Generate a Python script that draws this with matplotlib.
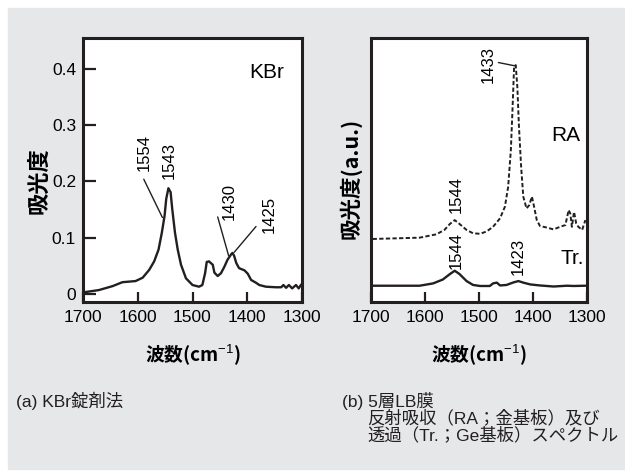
import matplotlib
matplotlib.use('Agg')
import matplotlib.pyplot as plt
from matplotlib import font_manager
from matplotlib.patches import Rectangle

plt.rcParams['font.family'] = ['Liberation Sans', 'Noto Sans CJK JP']
plt.rcParams['mathtext.fontset'] = 'custom'
plt.rcParams['mathtext.rm'] = 'Liberation Sans'

# --- (a) KBr spectrum, wavenumber (cm-1) vs absorbance ---
kbr_wn = [1699, 1671, 1646, 1628, 1616, 1604, 1591, 1579, 1570, 1562, 1556, 1551,
          1548, 1544, 1540, 1537, 1532, 1527, 1521, 1512, 1500, 1488, 1482, 1477,
          1474, 1470, 1463, 1460, 1454, 1448, 1442, 1436, 1429, 1427, 1424, 1420,
          1415, 1405, 1399, 1393, 1384, 1378, 1366, 1348, 1338, 1334, 1329, 1324,
          1318, 1311, 1306, 1302]
kbr_abs = [0.003, 0.007, 0.014, 0.021, 0.022, 0.023, 0.029, 0.043, 0.058, 0.079, 0.109, 0.139,
           0.169, 0.188, 0.181, 0.151, 0.109, 0.079, 0.052, 0.028, 0.016, 0.013, 0.016, 0.037,
           0.057, 0.058, 0.052, 0.038, 0.032, 0.037, 0.048, 0.061, 0.071, 0.073, 0.068, 0.055,
           0.046, 0.042, 0.036, 0.025, 0.020, 0.016, 0.013, 0.012, 0.012, 0.016, 0.011, 0.016,
           0.010, 0.016, 0.010, 0.016]

# --- (b) LB film: RA (reflection absorption) and Tr. (transmission), a.u. ---
ra_wn = [1697, 1610, 1579, 1564, 1554, 1545, 1536, 1523, 1511, 1498, 1486, 1474, 1461,
         1452, 1446, 1441, 1438, 1435, 1432, 1429, 1426, 1422, 1418, 1412, 1407, 1402,
         1398, 1393, 1387, 1374, 1362, 1350, 1340, 1334, 1331, 1328, 1324, 1320, 1316,
         1309, 1303]
ra_abs = [0.230, 0.235, 0.248, 0.265, 0.288, 0.303, 0.288, 0.265, 0.252, 0.250, 0.259, 0.277,
          0.310, 0.355, 0.432, 0.574, 0.729, 0.897, 0.903, 0.819, 0.665, 0.510, 0.394, 0.348,
          0.361, 0.394, 0.355, 0.303, 0.280, 0.274, 0.267, 0.277, 0.284, 0.342, 0.329, 0.277,
          0.335, 0.290, 0.277, 0.265, 0.303]
tr_wn = [1697, 1610, 1585, 1567, 1554, 1545, 1536, 1523, 1511, 1498, 1480, 1474, 1467,
         1461, 1449, 1436, 1427, 1418, 1405, 1387, 1362, 1337, 1325, 1303]
tr_abs = [0.049, 0.049, 0.058, 0.073, 0.094, 0.107, 0.094, 0.067, 0.052, 0.048, 0.048, 0.058,
          0.061, 0.050, 0.052, 0.062, 0.067, 0.061, 0.054, 0.050, 0.046, 0.049, 0.048, 0.049]

# peak labels: (text, text x, text y, line start, line end)
kbr_peaks = [('1554', 1589, 0.251, (1589, 0.204), (1555, 0.136)),
             ('1543', 1543, 0.237, None, None),
             ('1430', 1433, 0.165, (1454, 0.137), (1434, 0.068)),
             ('1425', 1360, 0.141, (1384, 0.120), (1424, 0.074))]
lb_peaks = [('1433', 1483, 0.905, (1464, 0.913), (1433, 0.900)),
            ('1544', 1542, 0.404, None, None),
            ('1544', 1542, 0.185, None, None),
            ('1423', 1427, 0.164, None, None)]

installed = {f.name for f in font_manager.fontManager.ttflist}
if 'Liberation Sans Narrow' in installed:
    tick_font = dict(family=['Liberation Sans Narrow'], size=13)
else:
    tick_font = dict(family=['Liberation Sans'], size=12.5)

fig = plt.figure(figsize=(6.25, 4.72), dpi=100)
fig.patch.set_facecolor('white')
fig.patches.append(Rectangle((8 / 625, 3 / 472), 1 - 8 / 625, 461 / 472,
                             transform=fig.transFigure, color='#e6e7e8', zorder=-10))

ax1 = fig.add_axes([83 / 625, 170 / 472, 219 / 625, 264 / 472])
ax2 = fig.add_axes([371 / 625, 170 / 472, 216 / 625, 264 / 472])

for ax in (ax1, ax2):
    ax.set_facecolor('white')
    ax.set_xlim(1700, 1300)
    ax.set_xticks([1700, 1600, 1500, 1400, 1300])
    ax.set_xticklabels(['1700', '1600', '1500', '1400', '1300'], fontdict=tick_font)
    for s in ax.spines.values():
        s.set_linewidth(2.2)
        s.set_color('#231f20')
    ax.tick_params(axis='x', direction='in', length=7, width=1.6, pad=6, color='#231f20')
    ax.set_xlabel('波数(cm$^{-1}$)', family=['Noto Sans CJK JP'], fontsize=13.5,
                  fontweight='bold')
    ax.xaxis.set_label_coords(0.5, -0.152)

# (a)
ax1.plot(kbr_wn, kbr_abs, color='#231f20', lw=1.7)
ax1.set_ylim(-0.0142, 0.455)
ax1.set_yticks([0, 0.1, 0.2, 0.3, 0.4])
ax1.set_yticklabels(['0', '0.1', '0.2', '0.3', '0.4'], fontdict=tick_font)
ax1.tick_params(axis='y', direction='in', length=9, width=1.6, pad=5, color='#231f20')
ax1.set_ylabel('吸光度', family=['Noto Sans CJK JP'], fontsize=16, fontweight='bold')
ax1.yaxis.set_label_coords(-0.15, 0.46)
ax1.text(1365, 0.394, 'KBr', fontsize=15, ha='center', va='center')
for lab, tx, ty, p0, p1 in kbr_peaks:
    ax1.text(tx, ty, lab, rotation=90, fontsize=12, ha='center', va='center')
    if p0 is not None:
        ax1.annotate('', xy=p1, xytext=p0,
                     arrowprops=dict(arrowstyle='-', lw=1.0, color='#231f20',
                                     shrinkA=0, shrinkB=0))

# (b)
ax2.plot(ra_wn, ra_abs, color='#231f20', lw=1.4, linestyle=(0, (2.2, 1.2)))
ax2.plot(tr_wn, tr_abs, color='#231f20', lw=1.7)
ax2.set_ylim(-0.014, 1.008)
ax2.set_yticks([])
ax2.set_ylabel('吸光度(a.u.)', family=['Noto Sans CJK JP', 'Liberation Sans'],
               fontsize=15.5, fontweight='bold')
ax2.yaxis.set_label_coords(-0.045, 0.47)
ax2.text(1340, 0.632, 'RA', fontsize=15, ha='center', va='center')
ax2.text(1328, 0.155, 'Tr.', fontsize=15, ha='center', va='center')
for lab, tx, ty, p0, p1 in lb_peaks:
    ax2.text(tx, ty, lab, rotation=90, fontsize=12, ha='center', va='center')
    if p0 is not None:
        ax2.annotate('', xy=p1, xytext=p0,
                     arrowprops=dict(arrowstyle='-', lw=1.0, color='#231f20',
                                     shrinkA=0, shrinkB=0))

# captions
cap = dict(family=['Liberation Sans', 'Noto Sans CJK JP'], fontsize=12.5, va='center',
           color='#231f20')
fig.text(16 / 625, 1 - 401 / 472, '(a) KBr錠剤法', **cap)
fig.text(342 / 625, 1 - 401 / 472, '(b) 5層LB膜', **cap)
fig.text(367 / 625, 1 - 418 / 472, '反射吸収（RA；金基板）及び', **cap)
fig.text(367 / 625, 1 - 435 / 472, '透過（Tr.；Ge基板）スペクトル', **cap)

fig.savefig('out.png', dpi=100, facecolor=fig.get_facecolor())
